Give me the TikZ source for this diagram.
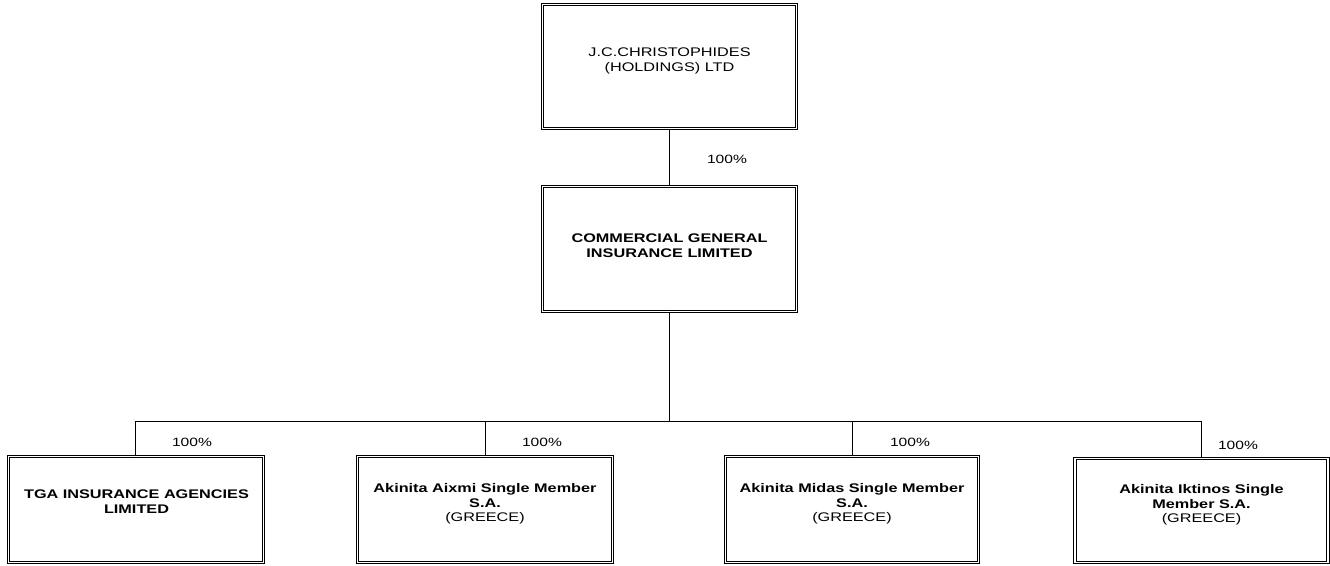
\documentclass[tikz,border=0pt]{standalone}
\usepackage{fontspec}
\setmainfont{Liberation Sans}[FakeStretch=1.3]
\begin{document}
\begin{tikzpicture}[x=1pt,y=-1pt,
  box/.style={draw, line width=0.7pt, double distance=1.8pt, inner sep=0pt},
  txt/.style={align=center, font=\fontsize{12.5}{14.4}\selectfont, inner sep=0pt},
  pct/.style={font=\fontsize{12}{14}\selectfont, inner sep=0pt},
  conn/.style={line width=0.8pt}]
\useasboundingbox (0,0) rectangle (1330,565);
% boxes
\node[box, minimum width=254pt, minimum height=124pt] (top) at (669.5,66.5) {};
\node[box, minimum width=254pt, minimum height=125pt] (mid) at (669.5,249) {};
\node[box, minimum width=255pt, minimum height=106pt] (tga) at (136,509.5) {};
\node[box, minimum width=255pt, minimum height=106pt] (aix) at (485,509.5) {};
\node[box, minimum width=253pt, minimum height=106pt] (mds) at (852,509.5) {};
\node[box, minimum width=253pt, minimum height=104pt] (ikt) at (1201.5,510.5) {};
% texts
\node[txt] (ttop) at (669.5,61) {J.C.CHRISTOPHIDES\\(HOLDINGS) LTD};
\node[txt] (tmid) at (669.5,245.5) {\bfseries COMMERCIAL GENERAL\\\bfseries INSURANCE LIMITED};
\node[txt] (ttga) at (136.5,501.5) {\bfseries TGA INSURANCE AGENCIES\\\bfseries LIMITED};
\node[txt] (taix) at (485,504) {\bfseries Akinita Aixmi Single Member\\\bfseries S.A.\\(GREECE)};
\node[txt] (tmds) at (852,504) {\bfseries Akinita Midas Single Member\\\bfseries S.A.\\(GREECE)};
\node[txt] (tikt) at (1201.5,505) {\bfseries Akinita Iktinos Single\\\bfseries Member S.A.\\(GREECE)};
% connectors
\coordinate (hub) at (669.5,421.5);
\draw[conn] (top.south) -- (mid.north);
\draw[conn] (mid.south) -- (hub);
\draw[conn] (tga.north -| 135,0) |- (hub) -| (ikt.north);
\draw[conn] (aix.north) -- (aix.north |- hub);
\draw[conn] (mds.north) -- (mds.north |- hub);
% percentages
\node[pct] (p0) at (727,159) {100\%};
\node[pct] (p1) at (192,442) {100\%};
\node[pct] (p2) at (542,442) {100\%};
\node[pct] (p3) at (910,442) {100\%};
\node[pct] (p4) at (1238,445) {100\%};
\end{tikzpicture}
\end{document}
